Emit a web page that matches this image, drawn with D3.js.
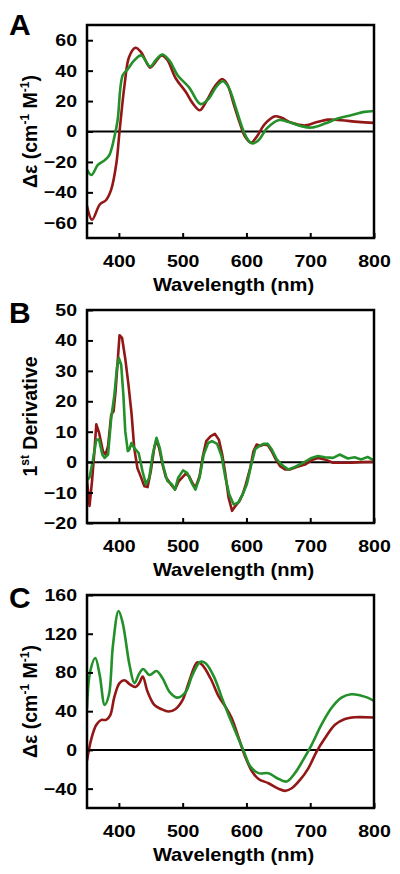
<!DOCTYPE html>
<html><head><meta charset="utf-8">
<script src="https://cdn.jsdelivr.net/npm/d3@7"></script>
<style>body{margin:0;background:#fff}svg{display:block}text{font-family:"Liberation Sans",Arial,sans-serif;font-weight:bold}</style>
</head><body>
<svg id="chart" width="400" height="874"></svg>
<script>
// Panel A data: [wavelength, value]
const aRed = [[350,-49],[358,-58],[370,-48],[380,-45],[388,-38],[396,-21],[401,0],[409,31],[416,49],[426,55],[435,52],[449,42],[458,46],[467,50],[476,47],[489,35],[505,26],[515,19],[527,14],[538,20.5],[551,30],[562,34.5],[570,31],[580,18],[590,5],[598,-3.5],[607,-7.4],[616,-3.5],[629,5],[645,10],[655,9],[671,5.7],[692,4],[707,5.7],[728,7.8],[749,7.4],[775,6.3],[800,5.7]];
const aGreen = [[350,-25],[357,-28.6],[367,-22],[378,-18.8],[385,-15.5],[393,-3.5],[398,7.4],[406,37],[414,41],[424,46.7],[435,50],[449,42.7],[458,47],[468,50.6],[479,46.7],[492,37],[510,29],[528,18],[541,21.6],[552,29],[563,33],[572,29],[583,16],[593,3],[601,-4.6],[609,-7.9],[619,-5.7],[632,2],[650,7.4],[666,6.3],[686,3.5],[702,2.6],[723,5.2],[743,8.5],[764,10.7],[785,12.9],[800,13.5]];
// Panel B data
const bRed = [[350,-6],[354,-14.4],[358,-6],[362,4.7],[364.6,12.4],[369,9.6],[375,3.6],[379,2.5],[383,5.3],[388,15.6],[391.7,16.7],[394.8,23.3],[398.4,34],[401,41.7],[405,40.8],[410,34],[415,25.5],[420,15.6],[424,4.7],[429,-1.9],[434,-4.6],[440,-7.9],[445,-8.2],[450,-3],[455.5,4.7],[459,7.4],[463,4.7],[468.5,-0.8],[473.7,-5],[481.5,-7.3],[488,-9],[494,-6.2],[499.5,-5],[505,-3.8],[510,-4.6],[515,-6.8],[520,-8.4],[526.5,-4.6],[531.7,2],[537,6.9],[543.6,8.5],[550.4,9.3],[556.7,7.4],[562,2.5],[567,-4],[572,-11.7],[577.5,-16],[582.7,-14.4],[589,-12.8],[594,-10.6],[599,-7.3],[606,-1.9],[611,3.6],[616,5.8],[621.6,5.3],[626.8,5.8],[633.5,5.6],[639.6,3.6],[646,0.9],[652.7,-1.3],[660.5,-2.4],[668,-2.4],[678.7,-1.6],[691.7,-0.8],[704.6,0.9],[712.4,1.4],[722.8,0.9],[735.8,-0.2],[748.8,-0.2],[764,-0.2],[780,0],[800,0.1]];
const bGreen = [[350,-6],[354,-5],[359,0.3],[364.6,7.4],[369,7.4],[374,2.5],[377.7,1.4],[383,2.5],[388,14.6],[393,22.2],[396.9,31],[400,34.2],[403.6,32],[407,22.2],[410,10.1],[414,3.6],[416.6,4.2],[419.7,6.3],[424,4.7],[431,3],[437,-3],[442.5,-7.3],[447.6,-5.1],[453,2.5],[459,8],[464,4.7],[469.5,-1.3],[476,-6.2],[483,-7.3],[488,-9],[493,-5.1],[500.6,-2.7],[507,-3.5],[514,-6.8],[520,-9],[526.5,-5.1],[533,2.5],[540,6.3],[546,6.9],[554,6],[561,2],[567,-5.1],[573,-10.6],[580,-13.9],[587,-13.3],[594,-10.6],[600.6,-7.3],[607,-1.3],[613.6,4.2],[620,5.3],[626.8,6],[633.5,6],[639.6,4.2],[647.5,0.9],[655,-0.8],[665.6,-2.4],[676,-1.6],[689,-0.2],[702,1.4],[712,2],[723,1.6],[736,1.4],[746,2.5],[759,1.2],[769.6,1.6],[780,0.9],[790,1.7],[800,0.5]];
// Panel C data
const cRed = [[350,-11],[357,12],[364.7,26],[372.5,31],[380,31],[386.5,36],[393,55],[401,69],[409,72],[416.6,68],[426,65],[432,69],[437.4,75.7],[445,60],[455.5,46.5],[466,42.3],[478,39.6],[489,42.3],[500,51.6],[510,70.5],[523,90.5],[530.8,87.7],[543.6,74],[556.7,55],[567,44.7],[577,32.7],[588,12],[598,-7],[608.6,-22],[619,-30],[634.5,-34.4],[650,-40],[660.5,-42.3],[671,-39.6],[684,-31],[697,-19],[710,-1.7],[723,12],[738.8,26],[754.4,32],[770,33.7],[800,33.4]];
const cGreen = [[350,43],[355,81],[363,95],[370,77],[377.7,46.5],[384.4,57],[390.7,108],[399.5,143.5],[406,131],[416.6,88],[424.4,69],[432,79],[438,83.6],[448,77.4],[459,81.5],[468.5,74],[480,59.5],[492,54],[505,60],[515,77],[528,91],[536,89.5],[549,75.7],[562,53],[572,36],[585,15.5],[596,-1.7],[606,-17],[619,-24],[634.5,-24],[647.6,-29],[663,-32.7],[676,-24],[689,-10.3],[702,5],[717.6,26],[733,43],[749,54],[764,57.5],[780,56],[790,54],[800,50.6]];

const xTicks = [400,500,600,700,800];
const aTicks = [-60,-40,-20,0,20,40,60];
const bTicks = [-20,-10,0,10,20,30,40,50];
const cTicks = [-40,0,40,80,120,160];

const RED = "#921717", GREEN = "#23902a";
const SX = 1.15; // horizontal stretch of label glyphs
const svg = d3.select("#chart");
const left = 87, right = 374, ph = 213;

const panels = [
  {letter:"A", top:25, domain:[-70,70], ticks:aTicks, series:[aRed,aGreen], ylabel:"de", curve:d3.curveCatmullRom.alpha(0.5), letterY:35},
  {letter:"B", top:310, domain:[-20,50], ticks:bTicks, series:[bRed,bGreen], ylabel:"deriv", curve:d3.curveLinear, letterY:323},
  {letter:"C", top:595, domain:[-60,160], ticks:cTicks, series:[cRed,cGreen], ylabel:"de", curve:d3.curveCatmullRom.alpha(0.5), letterY:608}
];

panels.forEach(p => {
  const x = d3.scaleLinear().domain([350,800]).range([left,right]);
  const y = d3.scaleLinear().domain(p.domain).range([p.top+ph, p.top]);
  const g = svg.append("g");
  const clipId = "clip"+p.letter;
  svg.append("clipPath").attr("id",clipId).append("rect").attr("x",left).attr("y",p.top).attr("width",right-left).attr("height",ph);

  // zero line
  g.append("line").attr("x1",left).attr("x2",right).attr("y1",y(0)).attr("y2",y(0)).attr("stroke","#000").attr("stroke-width",2);

  const line = d3.line().x(d=>x(d[0])).y(d=>y(d[1])).curve(p.curve);
  const cols = [RED, GREEN];
  p.series.forEach((s,i) => {
    g.append("path").datum(s).attr("d",line).attr("fill","none").attr("stroke",cols[i]).attr("stroke-width",2.6).attr("stroke-linejoin","round").attr("clip-path","url(#"+clipId+")");
  });

  // axes with inward ticks
  const yAxis = d3.axisLeft(y).tickValues(p.ticks).tickSize(-6).tickPadding(10).tickFormat(d3.format("d"));
  const ya = g.append("g").attr("transform",`translate(${left},0)`).call(yAxis);
  ya.select(".domain").remove();
  ya.selectAll(".tick line").attr("stroke","#000").attr("stroke-width",2);
  ya.selectAll(".tick text").attr("font-size",17).attr("fill","#000").attr("font-family","Liberation Sans, Arial, sans-serif").attr("font-weight","bold")
    .attr("x", -10/SX).attr("transform",`scale(${SX},1)`);

  const xAxis = d3.axisBottom(x).tickValues(xTicks).tickSize(-5).tickPadding(17).tickFormat(d3.format("d"));
  const xa = g.append("g").attr("transform",`translate(0,${p.top+ph})`).call(xAxis);
  xa.select(".domain").remove();
  xa.selectAll(".tick line").attr("stroke","#000").attr("stroke-width",2);
  xa.selectAll(".tick text").attr("font-size",17).attr("fill","#000").attr("font-family","Liberation Sans, Arial, sans-serif").attr("font-weight","bold")
    .attr("transform",`scale(${SX},1)`);

  // frame
  g.append("rect").attr("x",left).attr("y",p.top).attr("width",right-left).attr("height",ph).attr("fill","none").attr("stroke","#000").attr("stroke-width",2.5);

  // x title
  g.append("text").attr("transform",`translate(${(left+right)/2+3},${p.top+ph+53}) scale(${SX},1)`).attr("text-anchor","middle").attr("font-size",17.5).text("Wavelength (nm)");

  // y title
  const cy = p.top + ph/2;
  const yt = g.append("text").attr("transform",`translate(37,${cy}) rotate(-90)`).attr("text-anchor","middle").attr("font-size",19.5);
  if (p.ylabel === "de") {
    yt.append("tspan").text("Δε");
    yt.append("tspan").text(" (cm");
    yt.append("tspan").attr("font-size",12).attr("dy",-8).text("-1");
    yt.append("tspan").attr("dy",8).text(" M");
    yt.append("tspan").attr("font-size",12).attr("dy",-8).text("-1");
    yt.append("tspan").attr("dy",8).text(")");
  } else {
    yt.append("tspan").text("1");
    yt.append("tspan").attr("font-size",12).attr("dy",-8).text("st");
    yt.append("tspan").attr("dy",8).text(" Derivative");
  }

  // panel letter
  svg.append("text").attr("x",9).attr("y",p.letterY).attr("font-size",30).text(p.letter);
});
</script>
</body></html>
